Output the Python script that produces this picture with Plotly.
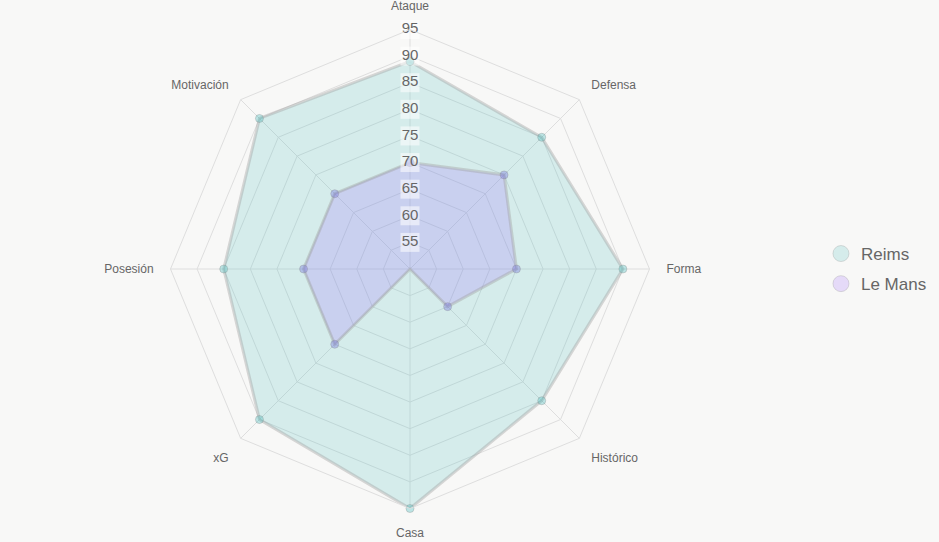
import plotly.graph_objects as go

categories = ["Ataque", "Defensa", "Forma", "Histórico", "Casa", "xG", "Posesión", "Motivación"]
reims = [89, 85, 90, 85, 95, 90, 85, 90]
le_mans = [70, 75, 70, 60, 50, 70, 70, 70]
radial_ticks = [55, 60, 65, 70, 75, 80, 85, 90, 95]

series = [
    ("Reims", reims, "rgba(75,192,192,0.2)", "rgba(75,192,192,0.35)"),
    ("Le Mans", le_mans, "rgba(153,102,255,0.2)", "rgba(110,110,220,0.35)"),
]

fig = go.Figure()
for name, vals, fillc, ptc in series:
    fig.add_trace(go.Scatterpolar(
        r=vals + vals[:1], theta=categories + categories[:1],
        mode="lines+markers", fill="toself", fillcolor=fillc,
        line=dict(color="rgba(160,160,160,0.4)", width=3),
        marker=dict(size=8, color=ptc, line=dict(color="rgba(140,140,140,0.35)", width=1)),
        name=name, showlegend=False, hoverinfo="skip",
    ))

# radial tick labels centred on the top spoke, with light backdrop
fig.add_trace(go.Scatterpolar(
    r=radial_ticks, theta=[categories[0]] * len(radial_ticks),
    mode="markers+text", text=[str(t) for t in radial_ticks],
    marker=dict(symbol="square", size=19, color="rgba(255,255,255,0.55)", line=dict(width=0)),
    textfont=dict(size=15, color="#666666", family="Liberation Sans, Arial"),
    textposition="middle center", showlegend=False, hoverinfo="skip",
))

# legend entries as circles
for name, vals, fillc, ptc in series:
    fig.add_trace(go.Scatterpolar(
        r=[None], theta=[categories[0]], mode="markers", name=name, legendgroup=name,
        marker=dict(size=16, color=fillc, line=dict(color="rgba(150,150,150,0.3)", width=1)),
    ))

W, H = 939, 542
cx, cy, R = 410, 269, 239.5
fig.update_layout(
    width=W, height=H,
    margin=dict(l=0, r=0, t=0, b=0),
    paper_bgcolor="#f8f8f7",
    plot_bgcolor="#f8f8f7",
    font=dict(family="Liberation Sans, Arial", color="#666666"),
    polar=dict(
        domain=dict(x=[(cx - R) / W, (cx + R) / W], y=[(H - cy - R) / H, (H - cy + R) / H]),
        bgcolor="rgba(0,0,0,0)",
        gridshape="linear",
        radialaxis=dict(range=[50, 95], tickvals=radial_ticks, showticklabels=False,
                        showline=False, ticks="", gridcolor="#dedede", gridwidth=1),
        angularaxis=dict(direction="clockwise", rotation=90, categoryorder="array",
                         categoryarray=categories, gridcolor="#dedede", linecolor="#dedede",
                         ticks="outside", ticklen=14, tickcolor="rgba(0,0,0,0)",
                         tickfont=dict(size=12, color="#666666")),
    ),
    legend=dict(x=0.8743, y=0.5037, xanchor="left", yanchor="middle",
                font=dict(size=17, color="#666666"), bgcolor="rgba(0,0,0,0)",
                traceorder="grouped", tracegroupgap=5, itemsizing="trace"),
)

fig.write_html("out.html")
